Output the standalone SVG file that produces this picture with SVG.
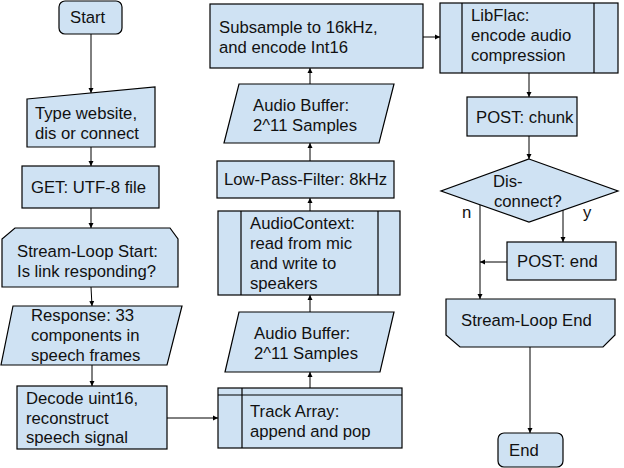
<svg xmlns="http://www.w3.org/2000/svg" width="624" height="468" viewBox="0 0 624 468">
<defs>
<marker id="ah" viewBox="0 0 10 10" refX="10" refY="5" markerWidth="5" markerHeight="6" orient="auto" markerUnits="userSpaceOnUse">
<path d="M0,0 L10,5 L0,10 z" fill="#000"/>
</marker>
<style>
.s{fill:#cfe2f3;stroke:#000;stroke-width:1.2}
.l{fill:none;stroke:#000;stroke-width:1.2}
.c{fill:none;stroke:#000;stroke-width:1;marker-end:url(#ah)}
text{font-family:"Liberation Sans",Arial,sans-serif;font-size:16.7px;fill:#111}
</style>
</defs>
<rect width="624" height="468" fill="#fff"/>
<g id="connectors">
<path class="c" d="M91,34 V93"/>
<path class="c" d="M91,147 V166"/>
<path class="c" d="M91,208 V228"/>
<path class="c" d="M91,287 L92,306"/>
<path class="c" d="M92,365 V386"/>
<path class="c" d="M167,418 H218"/>
<path class="c" d="M310,388 V372"/>
<path class="c" d="M310,312 V295"/>
<path class="c" d="M310,211 V198"/>
<path class="c" d="M310,161 V143"/>
<path class="c" d="M310,84 V68"/>
<path class="c" d="M423,37 H440"/>
<path class="c" d="M529,73 V97"/>
<path class="c" d="M529,136 V159"/>
<path class="c" d="M480,205 V299"/>
<path class="c" d="M563,210 V242"/>
<path class="c" d="M507,262 H480"/>
<path class="c" d="M530,347 V433"/>
<text x="462" y="218">n</text>
<text x="583" y="218">y</text>
</g>
<g id="start">
<rect class="s" x="59" y="1" width="63" height="33" rx="6"/>
<text x="70" y="23">Start</text>
</g>
<g id="type-website">
<polygon class="s" points="27,99 155,87 155,147 27,147"/>
<text x="35" y="119">Type website,</text>
<text x="35" y="139">dis or connect</text>
</g>
<g id="get-file">
<rect class="s" x="22" y="166" width="137" height="42"/>
<text x="31" y="193">GET: UTF-8 file</text>
</g>
<g id="loop-start">
<polygon class="s" points="15,228 170,228 178,239 178,287 2,287 2,239"/>
<text x="17" y="257">Stream-Loop Start:</text>
<text x="17" y="277">Is link responding?</text>
</g>
<g id="response">
<polygon class="s" points="13,306 182,306 167,365 1,365"/>
<text x="31" y="321">Response: 33</text>
<text x="31" y="341">components in</text>
<text x="31" y="361">speech frames</text>
</g>
<g id="decode">
<rect class="s" x="17" y="386" width="150" height="63"/>
<text x="26" y="404">Decode uint16,</text>
<text x="26" y="424">reconstruct</text>
<text x="26" y="443">speech signal</text>
</g>
<g id="track-array">
<rect class="s" x="218" y="388" width="184" height="60"/>
<path class="l" d="M218,395 H402 M242,388 V448"/>
<text x="250" y="417">Track Array:</text>
<text x="250" y="437">append and pop</text>
</g>
<g id="audio-buffer-2">
<polygon class="s" points="239,312 394,312 380,372 225,372"/>
<text x="254" y="339">Audio Buffer:</text>
<text x="254" y="359">2^11 Samples</text>
</g>
<g id="audio-context">
<rect class="s" x="218" y="211" width="182" height="84"/>
<path class="l" d="M241,211 V295 M378,211 V295"/>
<text x="250" y="229">AudioContext:</text>
<text x="250" y="249">read from mic</text>
<text x="250" y="269">and write to</text>
<text x="250" y="289">speakers</text>
</g>
<g id="low-pass">
<rect class="s" x="217" y="161" width="177" height="37"/>
<text x="224" y="185">Low-Pass-Filter: 8kHz</text>
</g>
<g id="audio-buffer-1">
<polygon class="s" points="239,84 394,84 379,143 224,143"/>
<text x="253" y="111">Audio Buffer:</text>
<text x="253" y="131">2^11 Samples</text>
</g>
<g id="subsample">
<rect class="s" x="210" y="4" width="213" height="64"/>
<text x="219" y="33">Subsample to 16kHz,</text>
<text x="219" y="53">and encode Int16</text>
</g>
<g id="libflac">
<rect class="s" x="440" y="3" width="178" height="70"/>
<path class="l" d="M462,3 V73 M594,3 V73"/>
<text x="471" y="21">LibFlac:</text>
<text x="471" y="41">encode audio</text>
<text x="471" y="61">compression</text>
</g>
<g id="post-chunk">
<rect class="s" x="467" y="97" width="110" height="39"/>
<text x="476" y="123">POST: chunk</text>
</g>
<g id="disconnect">
<polygon class="s" points="529,159 618,191 529,222 441,191"/>
<text x="493" y="187">Dis-</text>
<text x="494" y="207">connect?</text>
</g>
<g id="post-end">
<rect class="s" x="507" y="242" width="109" height="38"/>
<text x="517" y="267">POST: end</text>
</g>
<g id="loop-end">
<polygon class="s" points="446,299 615,299 615,335 603,347 460,347 446,335"/>
<text x="461" y="326">Stream-Loop End</text>
</g>
<g id="end">
<rect class="s" x="498" y="433" width="65" height="34" rx="6"/>
<text x="509" y="456">End</text>
</g>
</svg>
